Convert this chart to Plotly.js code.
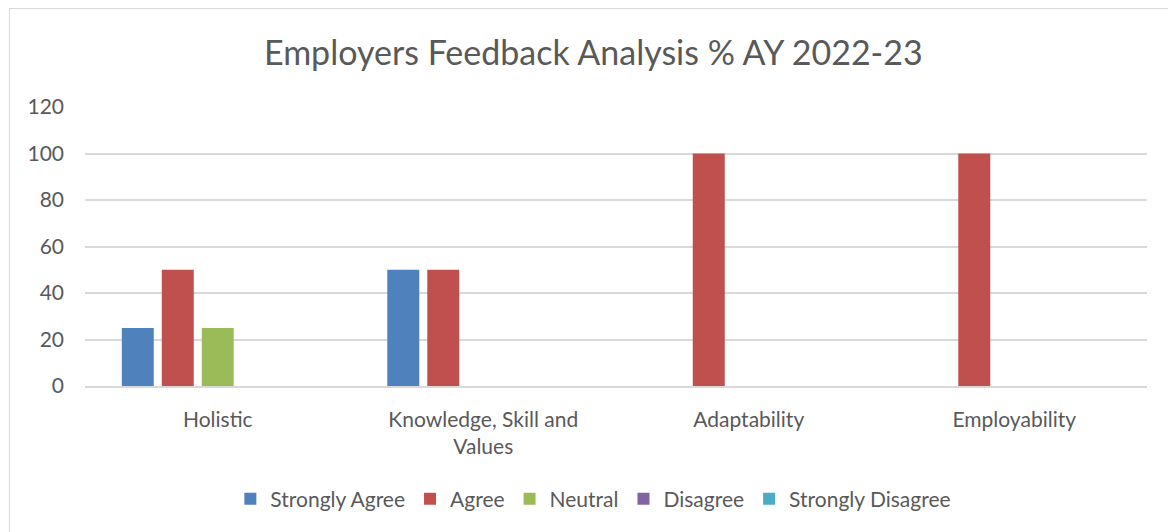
<!DOCTYPE html>
<html><head><meta charset="utf-8">
<script src="https://cdn.plot.ly/plotly-3.0.1.min.js"></script>
<style>
html,body{margin:0;padding:0;background:#fff;}
#frame{position:absolute;left:9px;top:8px;width:1170px;height:540px;border:1px solid #D9D9D9;box-sizing:border-box;pointer-events:none;}
#chart{width:1168px;height:532px;}
</style></head><body>
<div id="chart"></div>
<div id="frame"></div>
<script>
const categories = ["Holistic", "Knowledge, Skill and<br>Values", "Adaptability", "Employability"];
const seriesNames = ["Strongly Agree", "Agree", "Neutral", "Disagree", "Strongly Disagree"];
const stronglyAgree = [25, 50, 0, 0];
const agree = [50, 50, 100, 100];
const neutral = [25, 0, 0, 0];
const disagree = [0, 0, 0, 0];
const stronglyDisagree = [0, 0, 0, 0];
const colors = ["#4F81BD", "#C0504D", "#9BBB59", "#8064A2", "#4BACC6"];
const values = [stronglyAgree, agree, neutral, disagree, stronglyDisagree];

const font = "Lato, 'Open Sans', sans-serif";
const traces = seriesNames.map((n, i) => ({
  type: "bar", name: n, x: categories, y: values[i],
  marker: {color: colors[i], line: {width: 0}},
  hoverinfo: "x+y+name"
}));

const layout = {
  width: 1168, height: 532,
  margin: {l: 85, r: 21, t: 107, b: 146},
  paper_bgcolor: "#fff", plot_bgcolor: "#fff",
  title: {text: "Employers Feedback Analysis % AY 2022-23", font: {family: font, size: 34, color: "#595959"},
          x: 0.508, xanchor: "center", y: 0.9, yanchor: "middle", xref: "container", yref: "container"},
  barmode: "group", bargap: 0.247, bargroupgap: 0.2,
  font: {family: font, color: "#595959", size: 21},
  xaxis: {type: "category", showgrid: false, showline: true, linecolor: "#D9D9D9", linewidth: 1.5,
          ticks: "", tickfont: {size: 21, color: "#595959"}, fixedrange: true, ticklabelstandoff: 14},
  yaxis: {range: [0, 120], dtick: 20, showgrid: true, gridcolor: "#D9D9D9", gridwidth: 1.5,
          zeroline: false, showline: false, ticks: "", tickfont: {size: 21, color: "#595959"},
          ticklabelstandoff: 20, fixedrange: true},
  showlegend: true,
  legend: {orientation: "h", x: 0.508, xanchor: "center", xref: "container", y: 0.062, yanchor: "middle", yref: "container",
           font: {size: 21, color: "#595959"}, itemwidth: 30, traceorder: "normal", itemclick: false},
};
Plotly.newPlot("chart", traces, layout, {displayModeBar: false});
</script>
</body></html>
